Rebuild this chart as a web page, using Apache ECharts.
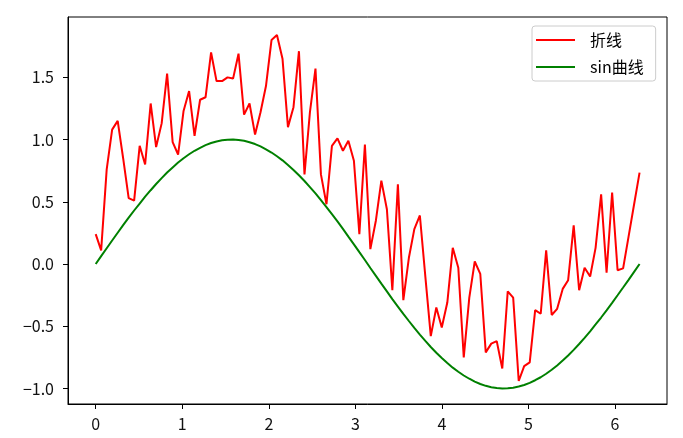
<!DOCTYPE html>
<html>
<head>
<meta charset="utf-8">
<script src="https://cdn.jsdelivr.net/npm/echarts@6/dist/echarts.min.js"></script>
<style>html,body{margin:0;padding:0;background:#fff;}#c{width:683px;height:438px;}</style>
</head>
<body>
<div id="c"></div>
<script>
const xValues = [0,0.063,0.127,0.190,0.254,0.317,0.381,0.444,0.508,0.571,0.635,0.698,0.762,0.825,0.889,0.952,1.015,1.079,1.142,1.206,1.269,1.333,1.396,1.460,1.523,1.587,1.650,1.714,1.777,1.841,1.904,1.967,2.031,2.094,2.158,2.221,2.285,2.348,2.412,2.475,2.539,2.602,2.666,2.729,2.793,2.856,2.919,2.983,3.046,3.110,3.173,3.237,3.300,3.364,3.427,3.491,3.554,3.618,3.681,3.745,3.808,3.871,3.935,3.998,4.062,4.125,4.189,4.252,4.316,4.379,4.443,4.506,4.570,4.633,4.697,4.760,4.823,4.887,4.950,5.014,5.077,5.141,5.204,5.268,5.331,5.395,5.458,5.522,5.585,5.648,5.712,5.775,5.839,5.902,5.966,6.029,6.093,6.156,6.220,6.283];
const zheXian = [0.24,0.11,0.76,1.08,1.15,0.85,0.53,0.51,0.95,0.80,1.29,0.94,1.13,1.53,0.98,0.88,1.23,1.39,1.03,1.32,1.34,1.70,1.47,1.47,1.50,1.49,1.69,1.20,1.29,1.04,1.22,1.43,1.80,1.84,1.65,1.10,1.26,1.71,0.72,1.22,1.57,0.72,0.48,0.95,1.01,0.91,0.99,0.83,0.24,0.96,0.12,0.35,0.67,0.44,-0.21,0.64,-0.29,0.05,0.28,0.39,-0.10,-0.58,-0.35,-0.51,-0.31,0.13,-0.03,-0.75,-0.27,0.02,-0.08,-0.71,-0.64,-0.62,-0.84,-0.22,-0.27,-0.94,-0.82,-0.79,-0.37,-0.40,0.11,-0.41,-0.36,-0.20,-0.13,0.31,-0.21,-0.03,-0.10,0.13,0.56,-0.07,0.575,-0.05,-0.035,0.22,0.48,0.735];
const sinQuXian = [0,0.063,0.127,0.189,0.251,0.312,0.372,0.430,0.486,0.541,0.593,0.643,0.690,0.735,0.776,0.815,0.850,0.882,0.910,0.934,0.955,0.972,0.985,0.994,0.999,1.000,0.997,0.990,0.979,0.964,0.945,0.922,0.896,0.866,0.833,0.796,0.756,0.713,0.667,0.618,0.567,0.514,0.458,0.401,0.342,0.282,0.220,0.158,0.095,0.032,-0.032,-0.095,-0.158,-0.220,-0.282,-0.342,-0.401,-0.458,-0.514,-0.567,-0.618,-0.667,-0.713,-0.756,-0.796,-0.833,-0.866,-0.896,-0.922,-0.945,-0.964,-0.979,-0.990,-0.997,-1.000,-0.999,-0.994,-0.985,-0.972,-0.955,-0.934,-0.910,-0.882,-0.850,-0.815,-0.776,-0.735,-0.690,-0.643,-0.593,-0.541,-0.486,-0.430,-0.372,-0.312,-0.251,-0.189,-0.127,-0.063,0];
const xTicks = [0,1,2,3,4,5,6];
const yTicks = [-1,-0.5,0,0.5,1,1.5];
const seriesNames = ['折线','sin曲线'];

const FONT = "'Noto Sans CJK SC', sans-serif";
const pair = (xs, ys) => xs.map((x, i) => [x, ys[i]]);
const chart = echarts.init(document.getElementById('c'), null, {renderer: 'canvas'});
chart.setOption({
  animation: false,
  backgroundColor: '#fff',
  grid: {left: 68, right: 16, top: 17, bottom: 34, show: true, borderColor: '#000', borderWidth: 1, backgroundColor: 'transparent'},
  legend: {
    orient: 'vertical', left: 532, top: 26,
    padding: [6, 12, 6, 4],
    itemGap: 11, itemWidth: 39, itemHeight: 2,
    backgroundColor: '#fff', borderColor: '#cccccc', borderWidth: 1, borderRadius: 3,
    textStyle: {fontFamily: FONT, fontSize: 16, color: '#000', lineHeight: 16, padding: [0, 0, 0, 10]},
    data: [{name: seriesNames[0], icon: 'rect'}, {name: seriesNames[1], icon: 'rect'}]
  },
  xAxis: {
    type: 'value', min: -0.32, max: 6.6,
    axisLine: {show: true, onZero: false, lineStyle: {color: '#000', width: 1}},
    axisTick: {show: true, length: 5, customValues: xTicks, lineStyle: {color: '#000'}},
    axisLabel: {customValues: xTicks, margin: 12, fontFamily: FONT, fontSize: 16, color: '#111', formatter: v => String(v)},
    splitLine: {show: false}
  },
  yAxis: {
    type: 'value', min: -1.125, max: 1.985,
    axisLine: {show: true, onZero: false, lineStyle: {color: '#000', width: 1}},
    axisTick: {show: true, length: 5, customValues: yTicks, lineStyle: {color: '#000'}},
    axisLabel: {customValues: yTicks, margin: 14, fontFamily: FONT, fontSize: 16, color: '#111', formatter: v => v.toFixed(1).replace('-', '−')},
    splitLine: {show: false}
  },
  series: [
    {name: seriesNames[0], type: 'line', data: pair(xValues, zheXian), showSymbol: false, symbol: 'none', color: '#ff0000', lineStyle: {color: '#ff0000', width: 2}, itemStyle: {color: '#ff0000'}},
    {name: seriesNames[1], type: 'line', data: pair(xValues, sinQuXian), showSymbol: false, symbol: 'none', color: '#008000', lineStyle: {color: '#008000', width: 2}, itemStyle: {color: '#008000'}}
  ]
});
</script>
</body>
</html>
